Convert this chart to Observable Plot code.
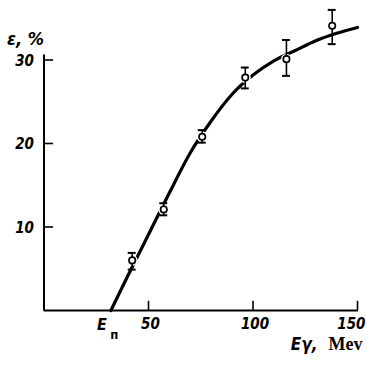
<!DOCTYPE html>
<html><head><meta charset="utf-8">
<script src="https://cdn.jsdelivr.net/npm/d3@7"></script>
<script src="https://cdn.jsdelivr.net/npm/@observablehq/plot@0.6"></script>
<style>body{margin:0;background:#fff}</style>
</head><body><div id="chart"></div>
<script>
// measured points (photon energy, MeV; efficiency, %)
const energy = [42.2, 57.3, 75.7, 96.3, 116, 137.9];
const efficiency = [6.0, 12.1, 20.8, 27.9, 30.1, 34.1];
const errLow = [4.9, 11.4, 20.1, 26.6, 28.1, 31.9];
const errHigh = [6.9, 12.85, 21.6, 29.1, 32.4, 36.0];
// smooth fitted curve
const curveEnergy = [32, 40, 50, 60, 70, 80, 90, 100, 110, 120, 130, 140, 150];
const curveEff = [0, 4.1, 9.1, 14.1, 18.9, 22.7, 25.9, 28.2, 29.9, 31.1, 32.3, 33.2, 33.9];
const xTicks = [50, 100, 150];
const yTicks = [10, 20, 30];
const yLabel = "ε, %";
const xLabelMain = "Eγ,";
const xLabelUnit = "Mev";
const thresholdMain = "E";
const thresholdSub = "п";

const points = energy.map((x, i) => ({x, y: efficiency[i], lo: errLow[i], hi: errHigh[i]}));
const curve = curveEnergy.map((x, i) => ({x, y: curveEff[i]}));
const threshold = curveEnergy[0];
const tickFont = '"Liberation Sans Narrow","DejaVu Sans Condensed","DejaVu Sans",sans-serif';
const lastTick = xTicks[xTicks.length - 1];

const chart = Plot.plot({
  width: 366, height: 367,
  marginLeft: 43.5, marginRight: 9, marginTop: 59.5, marginBottom: 57,
  x: {domain: [0, 150], axis: null},
  y: {domain: [0, 30], axis: null},
  style: {background: "white", color: "black"},
  marks: [
    Plot.ruleX([0], {y1: 0, y2: 30.6, strokeWidth: 2}),
    Plot.ruleY([0], {x1: 0, x2: 150.4, strokeWidth: 2}),
    Plot.ruleY(yTicks, {y: d => d, x1: 0, x2: 4.6, strokeWidth: 1.6}),
    Plot.ruleX(xTicks, {x: d => d, y1: 0, y2: 1.1, strokeWidth: 1.6}),
    Plot.text(yTicks, {x: 0, y: d => d, text: d => String(d), textAnchor: "end", dx: -10, dy: 1,
      fontFamily: tickFont, fontStyle: "italic", fontWeight: "bold", fontSize: 15}),
    Plot.text(xTicks.filter(d => d !== lastTick), {x: d => d, y: 0, text: d => String(d), dx: 2, dy: 14,
      fontFamily: tickFont, fontStyle: "italic", fontWeight: "bold", fontSize: 15}),
    Plot.text([lastTick], {x: d => d, y: 0, text: d => String(d), textAnchor: "end", dx: 8, dy: 14,
      fontFamily: tickFont, fontStyle: "italic", fontWeight: "bold", fontSize: 15}),
    Plot.text([thresholdMain], {x: threshold, y: 0, text: d => d, dx: -9, dy: 14,
      fontFamily: tickFont, fontStyle: "italic", fontWeight: "bold", fontSize: 16}),
    Plot.text([thresholdSub], {x: threshold, y: 0, text: d => d, dx: 3.5, dy: 24,
      fontFamily: tickFont, fontWeight: "bold", fontSize: 13}),
    Plot.line(curve, {x: "x", y: "y", curve: "monotone-x", strokeWidth: 3.2}),
    Plot.dot(points, {x: "x", y: "y", r: 5.5, fill: "white", stroke: null}),
    Plot.ruleX(points, {x: "x", y1: "lo", y2: "hi", strokeWidth: 1.6}),
    Plot.ruleY(points, {y: "lo", x1: d => d.x - 1.9, x2: d => d.x + 1.9, strokeWidth: 2}),
    Plot.ruleY(points, {y: "hi", x1: d => d.x - 1.9, x2: d => d.x + 1.9, strokeWidth: 2}),
    Plot.dot(points, {x: "x", y: "y", r: 3.2, fill: "white", stroke: "black", strokeWidth: 1.7}),
    Plot.text([yLabel], {frameAnchor: "top-left", text: d => d, textAnchor: "start", dx: -37, dy: -28,
      fontFamily: tickFont, fontStyle: "italic", fontWeight: "bold", fontSize: 18}),
    Plot.text([xLabelMain], {frameAnchor: "bottom-right", text: d => d, textAnchor: "end", dx: -40, dy: 39,
      fontFamily: tickFont, fontStyle: "italic", fontWeight: "bold", fontSize: 17}),
    Plot.text([xLabelUnit], {frameAnchor: "bottom-right", text: d => d, textAnchor: "end", dx: 5, dy: 39,
      fontFamily: '"Liberation Serif","DejaVu Serif",serif', fontWeight: "bold", fontSize: 18})
  ]
});
document.getElementById("chart").appendChild(chart);
</script>
</body></html>
